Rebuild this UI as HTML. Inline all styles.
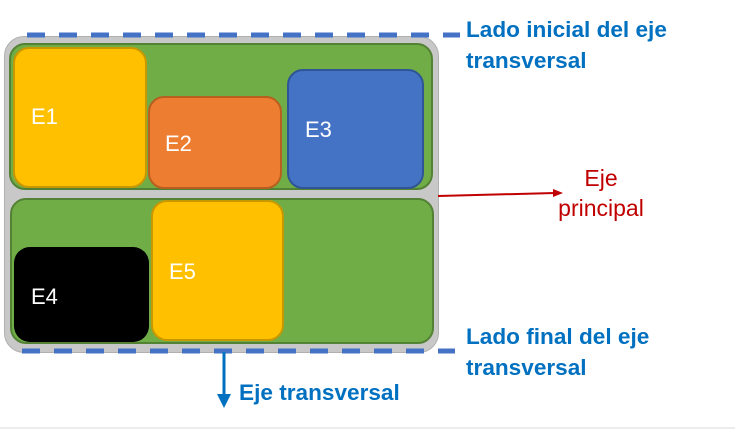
<!DOCTYPE html>
<html><head><style>
body{margin:0;width:735px;height:429px;background:#fff;position:relative;overflow:hidden;font-family:"Liberation Sans",sans-serif}
.b{position:absolute;box-sizing:border-box;border-radius:16px}
.l{position:absolute;color:#fff;font-size:22px}
.t{position:absolute;color:#0070C0;font-weight:bold;font-size:22.6px;line-height:31px}
</style></head><body>
<div class="b" style="left:4px;top:36px;width:435px;height:317px;background:#c8c8c8;border:1px solid #b0b0b0;border-radius:20px"></div>
<div class="b" style="left:9px;top:43px;width:424px;height:147px;background:#70ad47;border:2px solid #548235"></div>
<div class="b" style="left:10px;top:198px;width:424px;height:146px;background:#70ad47;border:2px solid #548235"></div>
<div class="b" style="left:13px;top:47px;width:134px;height:141px;background:#ffc000;border:2px solid #c89800"></div>
<div class="b" style="left:148px;top:96px;width:134px;height:93px;background:#ed7d31;border:2px solid #b85f20"></div>
<div class="b" style="left:287px;top:69px;width:137px;height:120px;background:#4472c4;border:2px solid #2f5597"></div>
<div class="b" style="left:14px;top:247px;width:135px;height:95px;background:#000"></div>
<div class="b" style="left:151px;top:200px;width:133px;height:141px;background:#ffc000;border:2px solid #c89800"></div>
<div class="l" style="left:31px;top:104px">E1</div>
<div class="l" style="left:165px;top:131px">E2</div>
<div class="l" style="left:305px;top:117px">E3</div>
<div class="l" style="left:31px;top:284px">E4</div>
<div class="l" style="left:169px;top:259px">E5</div>
<svg width="735" height="429" style="position:absolute;left:0;top:0">
<line x1="27" y1="35" x2="460" y2="35" stroke="#4472c4" stroke-width="5" stroke-dasharray="18,14"/>
<line x1="22" y1="351" x2="455" y2="351" stroke="#4472c4" stroke-width="5" stroke-dasharray="18,14"/>
<line x1="438" y1="196" x2="555" y2="193" stroke="#c00000" stroke-width="2"/>
<polygon points="563,193 553,189 553,197" fill="#c00000"/>
<line x1="224" y1="352" x2="224" y2="396" stroke="#0070c0" stroke-width="3"/>
<polygon points="217,394 231,394 224,408" fill="#0070c0"/>
<line x1="0" y1="428" x2="735" y2="428" stroke="#d9d9d9" stroke-width="1"/>
</svg>
<div class="t" style="left:466px;top:14px">Lado inicial del eje<br>transversal</div>
<div class="t" style="left:466px;top:321px">Lado final del eje<br>transversal</div>
<div class="t" style="left:239px;top:377px">Eje transversal</div>
<div style="position:absolute;left:545px;top:163px;width:112px;text-align:center;color:#c00000;font-size:23px;line-height:30px">Eje<br>principal</div>
</body></html>
